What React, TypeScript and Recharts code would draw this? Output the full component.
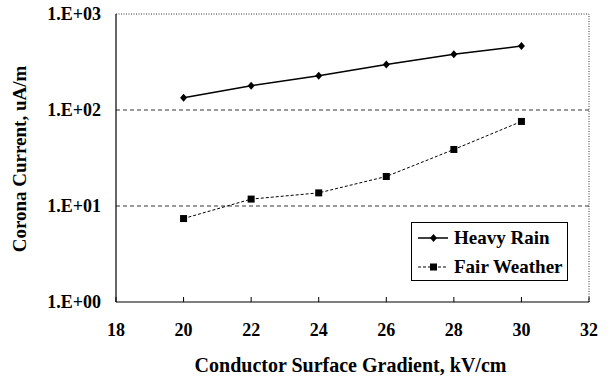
import { LineChart, Line, XAxis, YAxis, ReferenceLine, Legend } from "recharts";

const gradients = [20, 22, 24, 26, 28, 30];
const heavyRain = [134, 179, 228, 297, 380, 464];
const fairWeather = [7.4, 11.8, 13.7, 20.3, 38.8, 76];
const xTicks = [18, 20, 22, 24, 26, 28, 30, 32];
const yTicks = [1, 10, 100, 1000];

const data = gradients.map((g, i) => ({
  g,
  rain: heavyRain[i],
  fair: fairWeather[i],
}));

const FONT = '"Liberation Serif", "Times New Roman", serif';

const fmtExp = (v: number) => {
  const e = Math.round(Math.log10(v));
  return `1.E+${String(e).padStart(2, "0")}`;
};

function XTick(props: any) {
  const { x, y, payload } = props;
  return (
    <text
      x={x}
      y={y + 13}
      textAnchor="middle"
      style={{ fontFamily: FONT, fontWeight: 700, fontSize: 18 }}
      fill="#000"
    >
      {payload.value}
    </text>
  );
}

function YTick(props: any) {
  const { x, y, payload } = props;
  return (
    <text
      x={x}
      y={y + 6}
      textAnchor="end"
      style={{ fontFamily: FONT, fontWeight: 700, fontSize: 18 }}
      fill="#000"
    >
      {fmtExp(payload.value)}
    </text>
  );
}

function Diamond(props: any) {
  const { cx, cy } = props;
  if (cx == null || cy == null) return <g />;
  return (
    <polygon
      points={`${cx},${cy - 4} ${cx + 3.5},${cy} ${cx},${cy + 4} ${cx - 3.5},${cy}`}
      fill="#000"
    />
  );
}

function Square(props: any) {
  const { cx, cy } = props;
  if (cx == null || cy == null) return <g />;
  return <rect x={cx - 3.5} y={cy - 3.5} width={7} height={7} fill="#000" />;
}

function LegendRow({ label, dashed }: { label: string; dashed: boolean }) {
  return (
    <div style={{ display: "flex", alignItems: "center", height: 29 }}>
      <svg width={38} height={20} style={{ marginLeft: 4 }}>
        <line
          x1={2}
          y1={10}
          x2={32}
          y2={10}
          stroke="#000"
          strokeWidth={dashed ? 1 : 1.5}
          strokeDasharray={dashed ? "3 2" : undefined}
        />
        {dashed ? (
          <rect x={14} y={6.5} width={7} height={7} fill="#000" />
        ) : (
          <polygon points="17.5,6 21,10 17.5,14 14,10" fill="#000" />
        )}
      </svg>
      <span style={{ fontFamily: FONT }}>{label}</span>
    </div>
  );
}

function LegendBox() {
  return (
    <div
      style={{
        border: "1px solid #000",
        width: 155,
        height: 57,
        background: "#fff",
        fontFamily: FONT,
        fontWeight: 700,
        fontSize: 19,
        color: "#000",
        lineHeight: "20px",
      }}
    >
      <LegendRow label="Heavy Rain" dashed={false} />
      <LegendRow label="Fair Weather" dashed={true} />
    </div>
  );
}

export default function App() {
  return (
    <div style={{ position: "absolute", left: 0, top: 0, background: "#fff" }}>
      <LineChart
        width={611}
        height={379}
        data={data}
        margin={{ top: 14, right: 22, left: 16, bottom: 0 }}
      >
        <XAxis
          dataKey="g"
          type="number"
          domain={[18, 32]}
          ticks={xTicks}
          tick={XTick}
          tickSize={-5}
          tickMargin={26}
          height={77}
          stroke="#000"
          axisLine={{ stroke: "#000", strokeWidth: 1.2 }}
          label={{
            content: ({ viewBox }: any) => (
              <text
                x={viewBox.x + viewBox.width / 2 - 2}
                y={viewBox.y + 70}
                textAnchor="middle"
                style={{ fontFamily: FONT, fontWeight: 700, fontSize: 20 }}
                fill="#000"
              >
                Conductor Surface Gradient, kV/cm
              </text>
            ),
          }}
        />
        <YAxis
          scale="log"
          domain={[1, 1000]}
          ticks={yTicks}
          allowDataOverflow
          tick={YTick}
          tickLine={false}
          tickMargin={9}
          width={100}
          axisLine={{ stroke: "#000", strokeWidth: 1.2 }}
          label={{
            content: ({ viewBox }: any) => {
              const x = viewBox.x + 10;
              const y = viewBox.y + viewBox.height / 2 + 1;
              return (
                <text
                  x={x}
                  y={y}
                  transform={`rotate(-90 ${x} ${y})`}
                  textAnchor="middle"
                  style={{ fontFamily: FONT, fontWeight: 700, fontSize: 19 }}
                  fill="#000"
                >
                  Corona Current, uA/m
                </text>
              );
            },
          }}
        />
        <ReferenceLine y={10} stroke="#000" strokeWidth={0.8} strokeDasharray="4 3" />
        <ReferenceLine y={100} stroke="#000" strokeWidth={0.8} strokeDasharray="4 3" />
        <ReferenceLine y={1000} stroke="#000" strokeWidth={0.8} strokeDasharray="1 1.5" />
        <ReferenceLine x={32} stroke="#000" strokeWidth={0.8} strokeDasharray="1 1.5" />
        <Line
          dataKey="rain"
          name="Heavy Rain"
          stroke="#000"
          strokeWidth={1.5}
          dot={Diamond}
          activeDot={false}
          isAnimationActive={false}
        />
        <Line
          dataKey="fair"
          name="Fair Weather"
          stroke="#000"
          strokeWidth={1}
          strokeDasharray="3 2"
          dot={Square}
          activeDot={false}
          isAnimationActive={false}
        />
        <Legend
          layout="horizontal"
          verticalAlign="middle"
          content={() => <LegendBox />}
          wrapperStyle={{ left: 411, top: 222, width: "auto" }}
        />
      </LineChart>
    </div>
  );
}
